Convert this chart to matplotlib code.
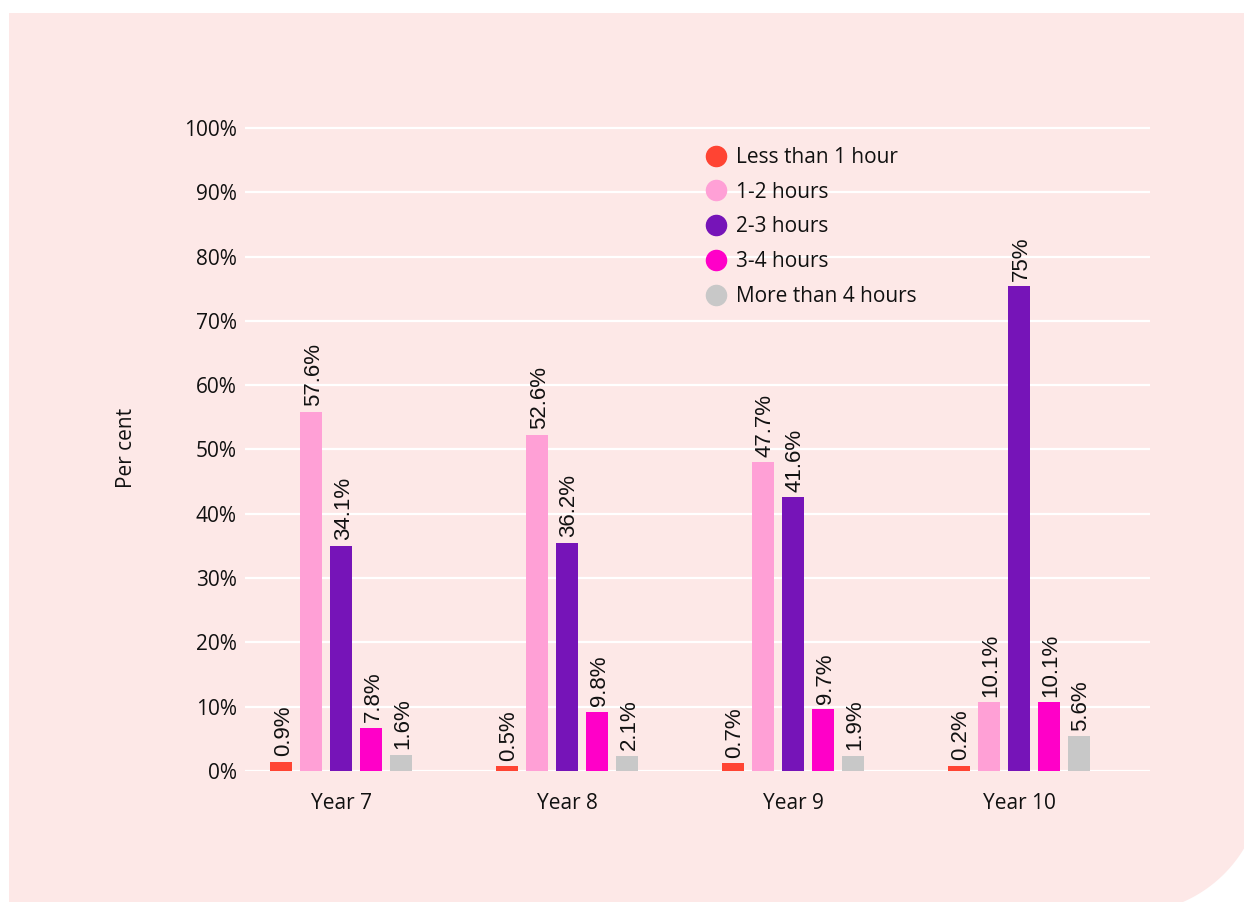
import matplotlib
matplotlib.use('Agg')
import matplotlib.pyplot as plt
from matplotlib.lines import Line2D
from matplotlib.patches import Polygon
import numpy as np

plt.rcParams['font.family'] = ['Open Sans', 'DejaVu Sans']

# data
years = ['Year 7', 'Year 8', 'Year 9', 'Year 10']
series = ['Less than 1 hour', '1-2 hours', '2-3 hours', '3-4 hours', 'More than 4 hours']
colors = ['#FF4433', '#FFA0D6', '#7614B8', '#FF00C8', '#C8C8C8']

# bar heights as drawn in the picture (%)
less_1h = [1.4, 0.7, 1.2, 0.8]
h_1_2 = [55.9, 52.3, 48.0, 10.7]
h_2_3 = [35.0, 35.5, 42.6, 75.4]
h_3_4 = [6.7, 9.2, 9.6, 10.7]
more_4h = [2.5, 2.4, 2.4, 5.4]

# printed labels
lab_less_1h = ['0.9%', '0.5%', '0.7%', '0.2%']
lab_1_2 = ['57.6%', '52.6%', '47.7%', '10.1%']
lab_2_3 = ['34.1%', '36.2%', '41.6%', '75%']
lab_3_4 = ['7.8%', '9.8%', '9.7%', '10.1%']
lab_more_4h = ['1.6%', '2.1%', '1.9%', '5.6%']

yticks = [0, 10, 20, 30, 40, 50, 60, 70, 80, 90, 100]

values = [less_1h, h_1_2, h_2_3, h_3_4, more_4h]
labels = [lab_less_1h, lab_1_2, lab_2_3, lab_3_4, lab_more_4h]

W, H = 1244, 902
fig = plt.figure(figsize=(W / 100, H / 100), dpi=100)
fig.patch.set_facecolor('white')

# pink panel with a rounded bottom-right corner (pixel coords, y down)
cx, cy, r = 1130, 780, 133
a0 = np.arctan2(902 - cy, 1183 - cx)
a1 = np.arctan2(847 - cy, 1244 - cx)
ang = np.linspace(a0, a1, 40)
arc = [(cx + r * np.cos(t), cy + r * np.sin(t)) for t in ang]
pts = [(9, 13), (1244, 13), (1244, 847)] + arc[::-1] + [(1183, 902), (9, 902)]
pts = [(x / W, 1 - y / H) for x, y in pts]
fig.patches.append(Polygon(pts, closed=True, transform=fig.transFigure,
                           facecolor='#FDE8E7', edgecolor='none', zorder=-1))

# axes: 0% at y=771, 100% at y=128, x from 245 to 1150
top_px = 128 - 6.43 * 1.0
ax = fig.add_axes([245 / W, (H - 771) / H, (1150 - 245) / W, (771 - top_px) / H])
ax.set_facecolor('none')

x = np.arange(len(years))
pitch = 0.1327
width = 0.0973
for i, (vals, labs, c) in enumerate(zip(values, labels, colors)):
    xs = x + (i - 2) * pitch
    ax.bar(xs, vals, width=width, color=c, zorder=3)
    for xi, v, t in zip(xs, vals, labs):
        ax.annotate(t, (xi, v), xytext=(1.5, 4), textcoords='offset points',
                    rotation=90, ha='center', va='bottom', fontsize=16,
                    family=['Liberation Sans', 'DejaVu Sans'], color='#111111')

ax.set_xlim(-0.425, 3.58)
ax.set_ylim(0, 101)
ax.set_yticks(yticks)
ax.set_yticklabels([f'{t}%' for t in yticks])
ax.set_xticks(x)
ax.set_xticklabels(years)
ax.tick_params(axis='both', length=0, labelsize=15, colors='#111111')
ax.tick_params(axis='y', pad=6)
ax.tick_params(axis='x', pad=16)
ax.grid(axis='y', color='white', lw=1.6, zorder=1)
for s in ax.spines.values():
    s.set_visible(False)

fig.text(127 / W, 1 - 448 / H, 'Per cent', rotation=90, ha='center', va='center',
         fontsize=15, color='#111111')

handles = [Line2D([], [], marker='o', linestyle='', markersize=14.5, color=c)
           for c in colors]
fig.legend(handles, series, loc='upper left', bbox_to_anchor=(706 / W, 1 - 147 / H),
           frameon=False, fontsize=15, handlelength=1.0, handletextpad=0.45,
           labelspacing=0.66, borderpad=0, borderaxespad=0, labelcolor='#111111')

fig.savefig('out.png', dpi=100)
